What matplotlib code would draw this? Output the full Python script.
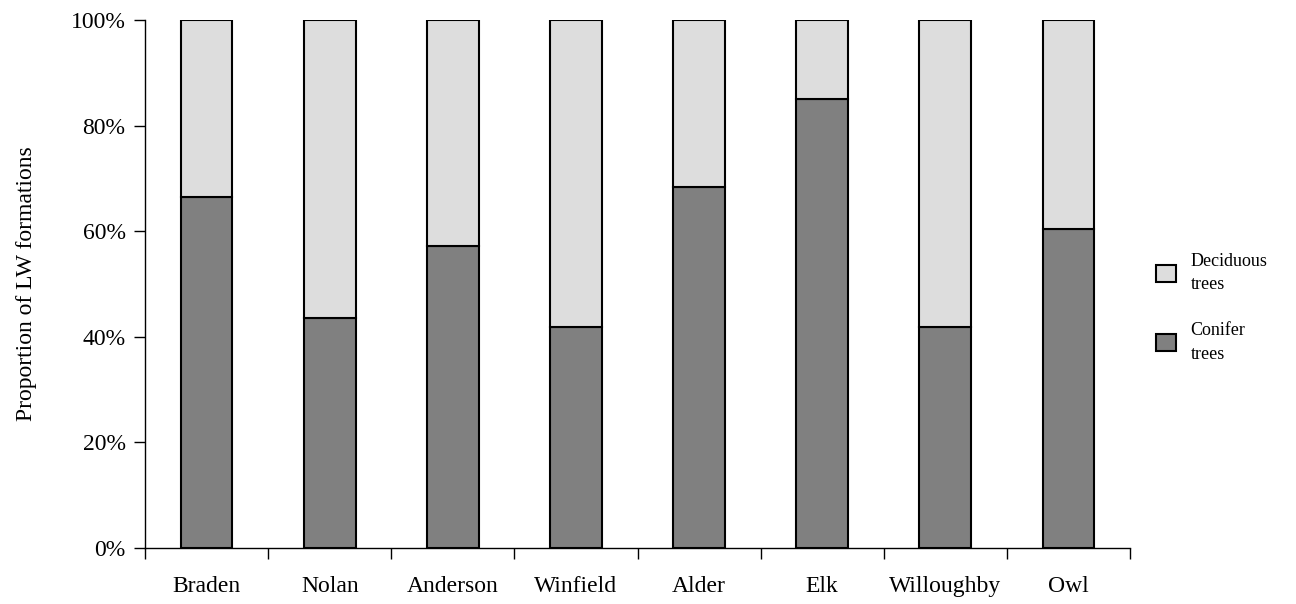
import matplotlib
matplotlib.use('Agg')
import matplotlib.pyplot as plt
import numpy as np
from matplotlib.ticker import PercentFormatter

# site names and share of LW formations (percent)
sites = ['Braden', 'Nolan', 'Anderson', 'Winfield', 'Alder', 'Elk', 'Willoughby', 'Owl']
conifer = [66.4, 43.6, 57.2, 41.9, 68.4, 85.1, 41.9, 60.4]
deciduous = [100 - c for c in conifer]

plt.rcParams['font.family'] = ['Liberation Serif', 'DejaVu Serif']

fig = plt.figure(figsize=(12.96, 6.04), dpi=100)
ax = fig.add_axes([0.1119, 0.0927, 0.76, 0.8742])

x = np.arange(len(sites))
ax.bar(x, conifer, width=0.42, color='#808080', edgecolor='black', linewidth=1.5, label='Conifer\ntrees')
ax.bar(x, deciduous, width=0.42, bottom=conifer, color='#dddddd', edgecolor='black', linewidth=1.5, label='Deciduous\ntrees')

ax.set_xlim(-0.5, len(sites) - 0.5)
ax.set_ylim(0, 100)
ax.set_yticks([0, 20, 40, 60, 80, 100])
ax.yaxis.set_major_formatter(PercentFormatter(decimals=0))
ax.set_ylabel('Proportion of LW formations', fontsize=17, labelpad=24)

# labels in the middle, ticks at category edges
ax.set_xticks(x)
ax.set_xticklabels(sites, fontsize=17)
ax.tick_params(axis='x', which='major', length=0, pad=20)
ax.set_xticks(np.arange(-0.5, len(sites)), minor=True)
ax.tick_params(axis='x', which='minor', length=8, width=1)
ax.tick_params(axis='y', length=8, width=1, labelsize=17, pad=6)

for s in ['top', 'right']:
    ax.spines[s].set_visible(False)
for s in ['left', 'bottom']:
    ax.spines[s].set_linewidth(1)

handles, labels = ax.get_legend_handles_labels()
leg = ax.legend(handles[::-1], labels[::-1], loc='center left', bbox_to_anchor=(1.01, 0.455),
                frameon=False, fontsize=13, handlelength=1.1, handleheight=1.1,
                labelspacing=1.6, handletextpad=0.8)
for t in leg.get_texts():
    t.set_linespacing(1.5)

fig.savefig('out.png', dpi=100)
